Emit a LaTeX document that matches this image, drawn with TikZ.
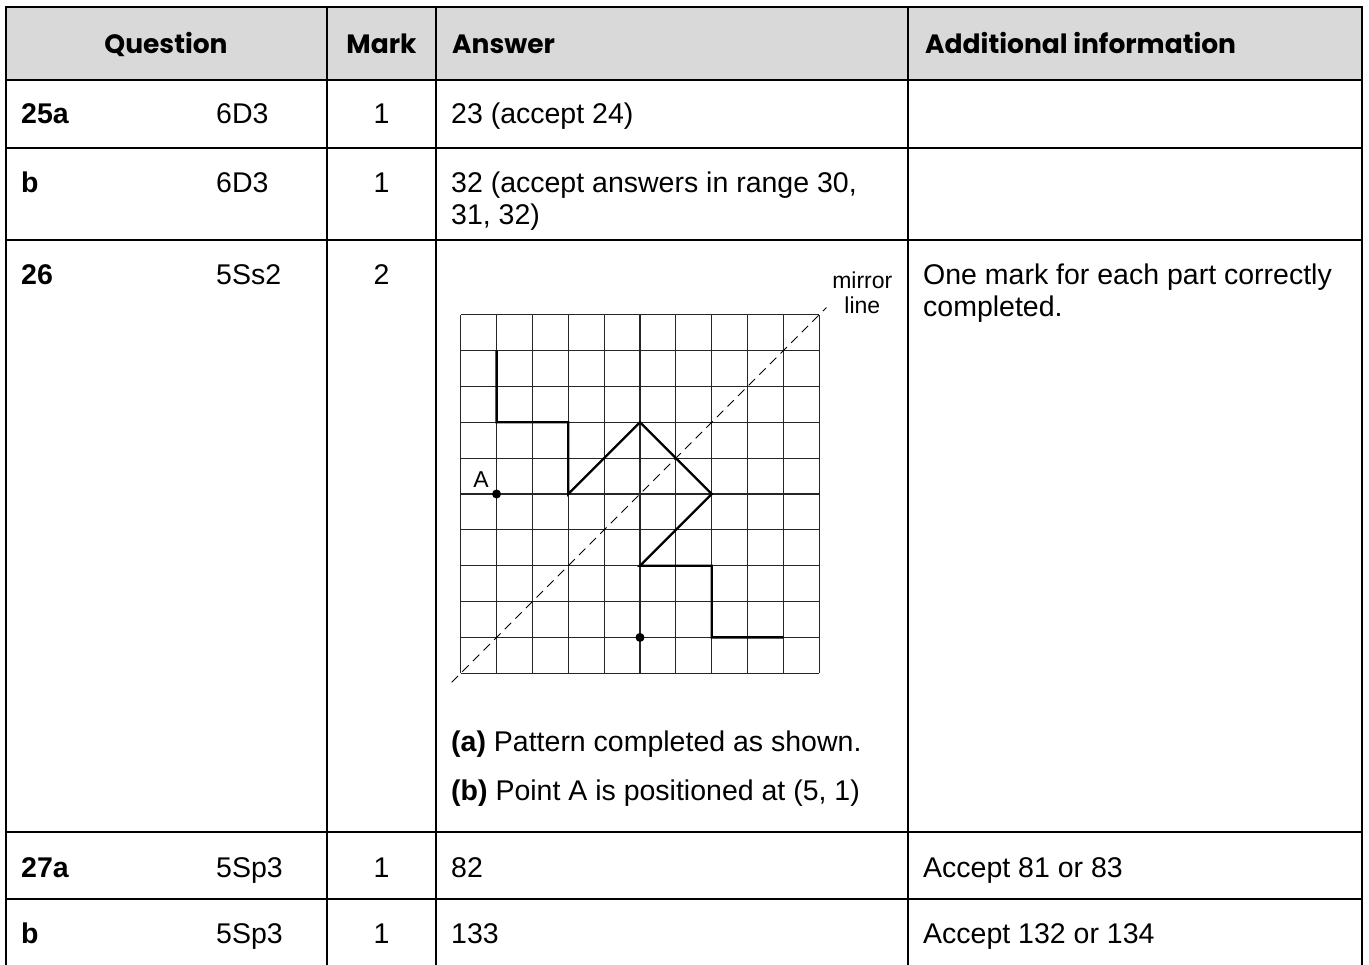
\documentclass[tikz,border=0pt]{standalone}
\usepackage{fontspec}
\setmainfont{Liberation Sans}
\newfontfamily\headfont{Poppins}
\usepackage{tikz}
\usetikzlibrary{positioning}

\begin{document}
\begin{tikzpicture}[x=1pt, y=-1pt,
    rule/.style={line width=2pt},
    head/.style={anchor=base, inner sep=0pt, font=\headfont\bfseries\fontsize{26.5}{30}\selectfont},
    cell/.style={anchor=base west, inner sep=0pt, font=\fontsize{28.5}{32}\selectfont},
    qno/.style={cell, font=\bfseries\fontsize{28.5}{32}\selectfont},
    markcell/.style={cell, anchor=base},
    gridline/.style={line width=1.1pt, black!85},
    shapeline/.style={line width=2.4pt, line join=miter},
    mirrorline/.style={line width=1pt, dash pattern=on 9pt off 6pt},
    dot/.style={circle, fill, inner sep=0pt, minimum size=9pt},
    small/.style={inner sep=0pt, font=\fontsize{23}{25}\selectfont, align=center}]
  \useasboundingbox (0,0) rectangle (1369,965);

  % header
  \fill[black!15] (6,7) rectangle (1362,80);
  \node[head] (hq) at (166,54) {Question};
  \node[head] (hm) at (381.5,54) {Mark};
  \node[head, anchor=base west] (ha) at (452,54) {Answer};
  \node[head, anchor=base west] (hi) at (925,54) {Additional information};

  % table rules
  \draw[rule] (6,965) -- (6,7) -- (1362,7) -- (1362,965);
  \foreach \y in {80,148,240,832,899}
    \draw[rule] (6,\y) -- (1362,\y);
  \foreach \x in {327,436,908}
    \draw[rule] (\x,7) -- (\x,965);

  % 25a
  \node[qno]      (q25a) at (21,124)    {25a};
  \node[cell]     (c25a) at (216,124)   {6D3};
  \node[markcell] (m25a) at (381.5,124) {1};
  \node[cell]     (a25a) at (451,124)   {23 (accept 24)};

  % 25b
  \node[qno]      (q25b)  at (21,193)    {b};
  \node[cell]     (c25b)  at (216,193)   {6D3};
  \node[markcell] (m25b)  at (381.5,193) {1};
  \node[cell]     (a25b)  at (451,193)   {32 (accept answers in range 30,};
  \node[cell]     (a25b2) at (451,225)   {31, 32)};

  % 26
  \node[qno]      (q26)  at (21,285)    {26};
  \node[cell]     (c26)  at (216,285)   {5Ss2};
  \node[markcell] (m26)  at (381.5,285) {2};
  \node[cell]     (i26)  at (923,285)   {One mark for each part correctly};
  \node[cell]     (i262) at (923,317)   {completed.};
  \node[cell]     (a26a) at (451,751)   {\textbf{(a)} Pattern completed as shown.};
  \node[cell]     (a26b) at (451,800)   {\textbf{(b)} Point A is positioned at (5, 1)};

  % square grid with mirror line
  \begin{scope}[shift={(460.7,673.3)}, x=35.86pt, y=35.86pt]
    \foreach \i in {0,...,10} {
      \draw[gridline] (\i,0) -- (\i,10);
      \draw[gridline] (0,\i) -- (10,\i);
    }
    \draw[mirrorline] (-0.25,-0.25) -- (10.2,10.2);
    \draw[shapeline] (1,9) -- (1,7) -- (3,7) -- (3,5) -- (5,7) -- (7,5)
                     -- (5,3) -- (7,3) -- (7,1) -- (9,1);
    \node[dot] (ptA) at (1,5) {};
    \node[dot] (ptB) at (5,1) {};
    \node[small] (lblA) at ([xshift=-15.6pt, yshift=14pt]ptA.center) {A};
    \node[small] (lblm) at (11.2,10.6) {mirror\\line};
  \end{scope}

  % 27a
  \node[qno]      (q27a) at (21,877)    {27a};
  \node[cell]     (c27a) at (216,877)   {5Sp3};
  \node[markcell] (m27a) at (381.5,877) {1};
  \node[cell]     (a27a) at (451,877)   {82};
  \node[cell]     (i27a) at (923,877)   {Accept 81 or 83};

  % 27b
  \node[qno]      (q27b) at (21,943)    {b};
  \node[cell]     (c27b) at (216,943)   {5Sp3};
  \node[markcell] (m27b) at (381.5,943) {1};
  \node[cell]     (a27b) at (451,943)   {133};
  \node[cell]     (i27b) at (923,943)   {Accept 132 or 134};
\end{tikzpicture}
\end{document}
